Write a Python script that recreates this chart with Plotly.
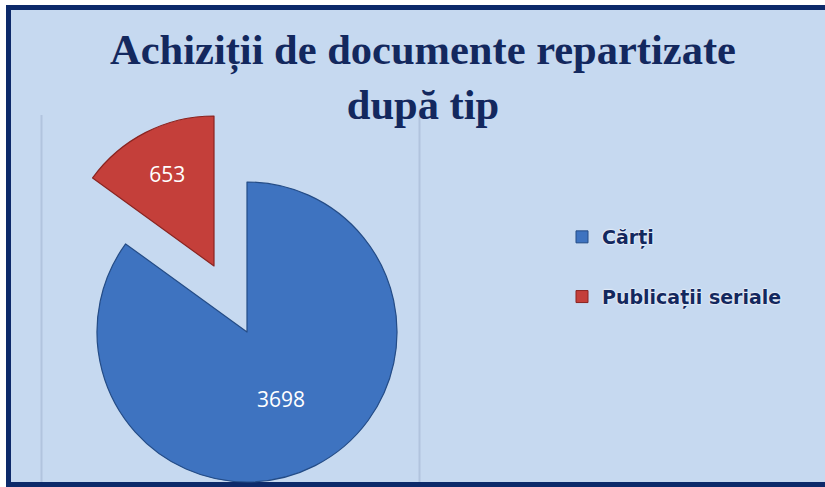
import plotly.graph_objects as go

# ---- data ----
labels = ["Cărți", "Publicații seriale"]
values = [3698, 653]
title_lines = ["Achiziții de documente repartizate", "după tip"]

# ---- styling ----
W, H = 825, 487
blue, blue_edge = "#3e73c0", "#244c86"
red, red_edge = "#c43f3a", "#8a2420"
navy = "#13285e"
bg = "#c6d9f0"
frame = "#0d2a6a"
clear = "rgba(0,0,0,0)"

R = 150
center_main = (247, 332)     # pixel centre of the big slice's pie
center_pulled = (214, 266)   # pixel centre of the exploded slice


def domain(c):
    cx, cy = c
    return dict(x=[(cx - R) / W, (cx + R) / W],
                y=[(H - cy - R) / H, (H - cy + R) / H])


def px(x):
    return x / W


def py(y):
    return (H - y) / H


fig = go.Figure()

# main (unexploded) part: only the first slice visible
fig.add_trace(go.Pie(
    labels=labels, values=values, sort=False, direction="clockwise",
    domain=domain(center_main),
    marker=dict(colors=[blue, clear], line=dict(color=[blue_edge, clear], width=1.2)),
    texttemplate=["%{value}", ""], textposition="inside",
    insidetextorientation="horizontal",
    textfont=dict(family="Open Sans", size=21, color="white"),
    showlegend=False, hoverinfo="label+value",
))

# exploded slice: only the second slice visible
fig.add_trace(go.Pie(
    labels=labels, values=values, sort=False, direction="clockwise",
    domain=domain(center_pulled),
    marker=dict(colors=[clear, red], line=dict(color=[clear, red_edge], width=1.2)),
    texttemplate=["", "%{value}"], textposition="inside",
    insidetextorientation="horizontal",
    textfont=dict(family="Open Sans", size=21, color="white"),
    showlegend=False, hoverinfo="label+value",
))

# legend entries
for name, col, edge, grp in [(labels[0], blue, blue_edge, "a"), (labels[1], red, red_edge, "b")]:
    fig.add_trace(go.Scatter(
        x=[None], y=[None], mode="markers", name=name, legendgroup=grp,
        marker=dict(symbol="square", size=12, color=col, line=dict(color=edge, width=1)),
    ))

shapes = [
    dict(type="rect", xref="paper", yref="paper", layer="below",
         x0=px(8.5), x1=1.1, y0=-0.05, y1=py(7.5),
         fillcolor=bg, line=dict(width=0)),
    # frame: left, top, bottom
    dict(type="line", xref="paper", yref="paper", layer="below",
         x0=px(8.5), x1=px(8.5), y0=py(487), y1=py(5), line=dict(color=frame, width=5)),
    dict(type="line", xref="paper", yref="paper", layer="below",
         x0=px(6), x1=1.1, y0=py(7.5), y1=py(7.5), line=dict(color=frame, width=5)),
    dict(type="line", xref="paper", yref="paper", layer="below",
         x0=px(6), x1=1.1, y0=py(484.5), y1=py(484.5), line=dict(color=frame, width=5)),
]
for lx in (41.5, 419.5):
    shapes.append(dict(type="line", xref="paper", yref="paper", layer="below",
                       x0=px(lx), x1=px(lx), y0=py(482), y1=py(115),
                       line=dict(color="#b1c4de", width=2)))

fig.update_layout(
    width=W, height=H,
    margin=dict(l=0, r=0, t=0, b=0),
    paper_bgcolor="white", plot_bgcolor="rgba(0,0,0,0)",
    xaxis=dict(visible=False), yaxis=dict(visible=False),
    title=dict(text="<br>".join(title_lines), x=px(423), xanchor="center",
               y=py(64), yanchor="top",
               font=dict(family="Liberation Serif", size=42.5, color=navy, weight="bold")),
    legend=dict(x=px(562), xanchor="left", y=py(218), yanchor="top",
                bgcolor="rgba(0,0,0,0)", tracegroupgap=32,
                font=dict(family="DejaVu Sans", size=19, color=navy, weight="bold",
                          shadow="0 0 2px #ffffff, 0 0 2px #ffffff")),
    shapes=shapes,
)

fig.write_html("out.html", config={"displayModeBar": False},
               post_script="document.body.style.margin='0';document.body.style.overflow='hidden';")
